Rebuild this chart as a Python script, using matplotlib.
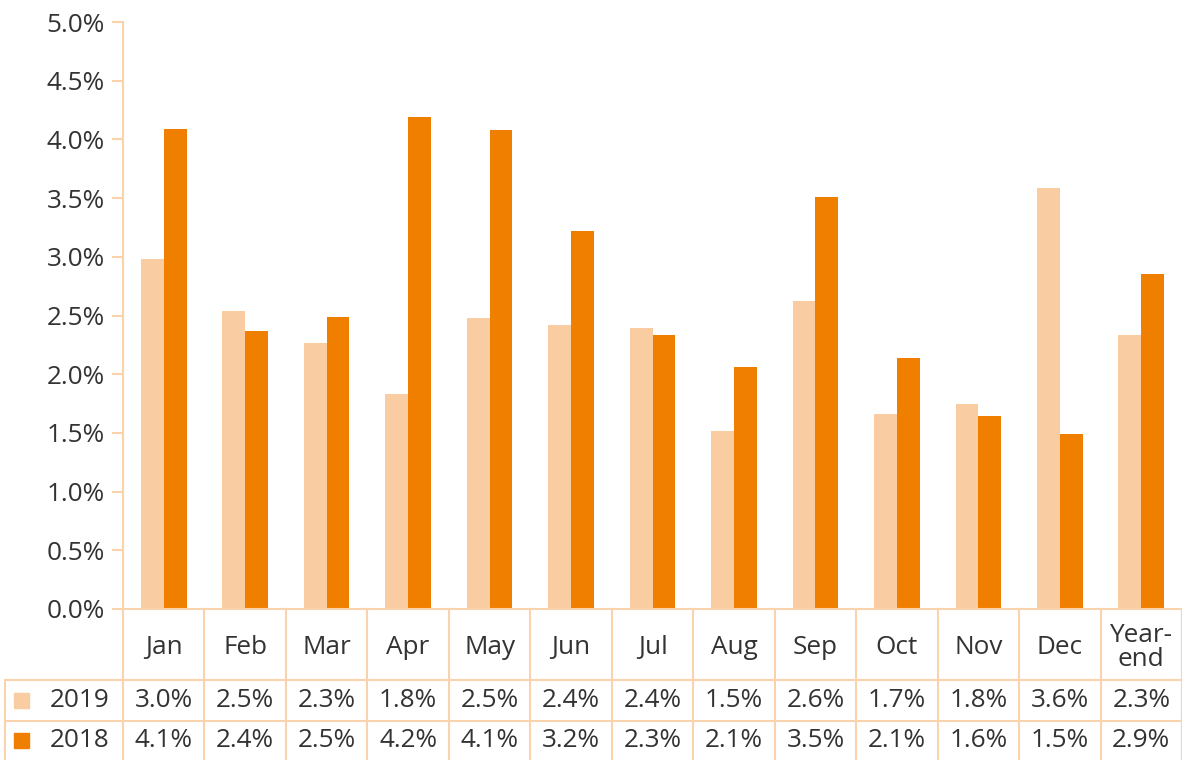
import matplotlib.pyplot as plt
from matplotlib.lines import Line2D
from matplotlib.patches import Rectangle
import numpy as np

# data
months = ["Jan", "Feb", "Mar", "Apr", "May", "Jun", "Jul", "Aug", "Sep", "Oct", "Nov", "Dec", "Year-\nend"]
v2019 = [2.98, 2.54, 2.27, 1.83, 2.48, 2.42, 2.39, 1.52, 2.62, 1.66, 1.75, 3.59, 2.33]
v2018 = [4.09, 2.37, 2.49, 4.19, 4.08, 3.22, 2.33, 2.06, 3.51, 2.14, 1.64, 1.49, 2.85]
lbl2019 = ["3.0%", "2.5%", "2.3%", "1.8%", "2.5%", "2.4%", "2.4%", "1.5%", "2.6%", "1.7%", "1.8%", "3.6%", "2.3%"]
lbl2018 = ["4.1%", "2.4%", "2.5%", "4.2%", "4.1%", "3.2%", "2.3%", "2.1%", "3.5%", "2.1%", "1.6%", "1.5%", "2.9%"]
series = ["2019", "2018"]

c_light = "#F9CCA1"
c_dark = "#F07F00"
c_line = "#FAD2AC"
c_text = "#333333"
fs = 18.8

plt.rcParams['font.family'] = ['Open Sans', 'DejaVu Sans']

W, H = 1182, 760
fig = plt.figure(figsize=(W / 100, H / 100), dpi=100)

# main chart area in pixel positions
x0, x1 = 123, 1182
y_top, y_zero = 22, 609
ax = fig.add_axes([x0 / W, 1 - y_zero / H, (x1 - x0) / W, (y_zero - y_top) / H])

n = len(months)
x = np.arange(n)
bw = 0.28
ax.bar(x - bw / 2, v2019, bw, color=c_light)
ax.bar(x + bw / 2, v2018, bw, color=c_dark)
ax.set_xlim(-0.5, n - 0.5)
ax.set_ylim(0, 5)
ax.set_yticks(np.arange(0, 5.01, 0.5))
ax.set_yticklabels([f"{t:.1f}%" for t in np.arange(0, 5.01, 0.5)])
ax.set_xticks([])
for s in ["top", "right"]:
    ax.spines[s].set_visible(False)
ax.spines["left"].set_color(c_line)
ax.spines["bottom"].set_color(c_line)
ax.spines["left"].set_linewidth(1.5)
ax.spines["bottom"].set_linewidth(1.5)
ax.tick_params(axis="y", colors=c_line, length=8, width=1.5, labelsize=fs, labelcolor=c_text, pad=5)

# data table below the chart
tx0 = 5
colw = (x1 - x0) / n
label_w = (x0 - tx0) / colw
tab = fig.add_axes([tx0 / W, 0, (x1 - tx0) / W, (H - y_zero) / H])
tab.set_xlim(-0.5 - label_w, n - 0.5)
tab.set_ylim(0, H - y_zero)  # pixel rows counted from bottom
tab.axis("off")

y_hdr = H - 680  # header / 2019 boundary
y_mid = H - 721  # 2019 / 2018 boundary
lk = dict(color=c_line, lw=1.5, clip_on=False)

# vertical lines
for i in range(n + 1):
    xb = i - 0.5
    tab.add_line(Line2D([xb, xb], [0, H - y_zero], **lk))
tab.add_line(Line2D([-0.5 - label_w, -0.5 - label_w], [0, y_hdr], **lk))
# horizontal lines
for yy in [y_hdr, y_mid]:
    tab.add_line(Line2D([-0.5 - label_w, n - 0.5], [yy, yy], **lk))

hdr_c = (H - y_zero + y_hdr) / 2 - 3
r1_c = (y_hdr + y_mid) / 2
r2_c = y_mid / 2
for i, m in enumerate(months):
    tab.text(i, hdr_c, m, ha="center", va="center", fontsize=fs, color=c_text, linespacing=0.95)
    tab.text(i, r1_c, lbl2019[i], ha="center", va="center", fontsize=fs, color=c_text)
    tab.text(i, r2_c, lbl2018[i], ha="center", va="center", fontsize=fs, color=c_text)

# row labels with colour keys
sq = 15 / colw
for yc, name, col in [(r1_c, series[0], c_light), (r2_c, series[1], c_dark)]:
    kx = -0.5 - label_w + 9 / colw
    tab.add_patch(Rectangle((kx, yc - 7.5), sq, 15, color=col, clip_on=False))
    tab.text(-0.5 - label_w + 45 / colw, yc, name, ha="left", va="center", fontsize=fs, color=c_text)

fig.savefig("out.png", dpi=100)
